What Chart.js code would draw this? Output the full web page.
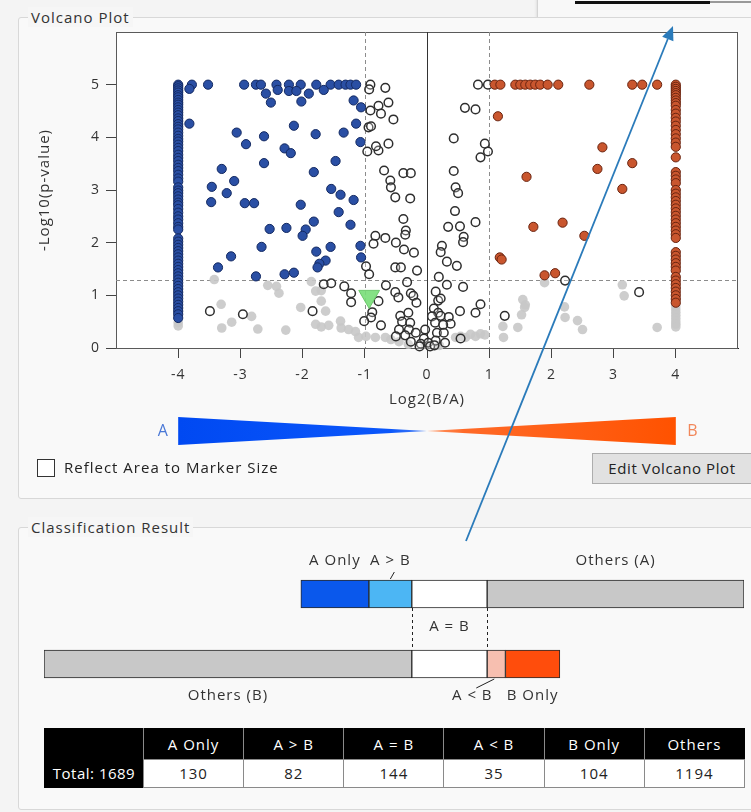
<!DOCTYPE html>
<html>
<head>
<meta charset="utf-8">
<title>Volcano Plot</title>
<script src="https://cdn.jsdelivr.net/npm/chart.js@4.4.1/dist/chart.umd.min.js"></script>
<style>
  html, body { margin: 0; padding: 0; }
  body {
    width: 751px; height: 812px; position: relative; overflow: hidden;
    background: #f4f4f4; font-family: "Open Sans", "Noto Sans", sans-serif; color: #333; letter-spacing: 1px;
  }
  .group { position: absolute; border: 1px solid #d8d8d8; border-radius: 3px; background: #f9f9f9; }
  .group-title {
    position: absolute; left: 9px; top: -11px; padding: 0 3px; background: #f6f6f6;
    font-size: 15px; line-height: 20px; color: #333; white-space: nowrap;
  }
  canvas { position: absolute; left: 0; }
  #volcano { top: 0; }
  #classes { top: 530px; }
  .popup { position: absolute; left: 537px; top: -4px; width: 230px; height: 34px; background: #f8f8f8;
    border: 1px solid #d4d4d4; box-shadow: 0 1px 3px rgba(0,0,0,0.15); }
  .popup .bar1 { position: absolute; left: 37px; top: 4px; width: 135px; height: 3px; background: #111; }
  .popup .bar2 { position: absolute; left: 172px; top: 4px; width: 60px; height: 2px; background: #999; }
  .check { position: absolute; left: 37px; top: 459px; width: 16px; height: 16px; background: #fff; border: 1px solid #333; }
  .check-label { position: absolute; left: 64px; top: 457px; font-size: 15px; line-height: 20px; color: #222; }
  .button { position: absolute; left: 592px; top: 453px; width: 160px; height: 31px; background: #e1e1e1;
    border: 1px solid #adadad; box-sizing: border-box; font-size: 15px; line-height: 29px; text-align: center;
    color: #222; letter-spacing: 0.6px; white-space: nowrap; }
  table.summary { position: absolute; left: 44px; top: 728px; width: 701px; border-collapse: collapse;
    table-layout: fixed; font-size: 15px; border: 1px solid #000; }
  table.summary th, table.summary td { padding: 0; text-align: center; font-weight: normal; white-space: nowrap; }
  table.summary thead th { background: #000; color: #fff; height: 30px; border-left: 1px solid #8a8a8a; }
  table.summary thead th:first-child { border-left: none; }
  table.summary tbody th { background: #000; color: #fff; height: 27px; letter-spacing: 0.5px; }
  table.summary tbody td { background: #fff; color: #222; border: 1px solid #8a8a8a; }
  svg.overlay { position: absolute; left: 0; top: 0; pointer-events: none; }
</style>
</head>
<body>
<div class="popup"><div class="bar1"></div><div class="bar2"></div></div>
<div class="group" style="left:18px; top:17px; width:760px; height:480px;">
  <div class="group-title">Volcano Plot</div>
</div>
<div class="group" style="left:18px; top:527px; width:760px; height:281px;">
  <div class="group-title">Classification Result</div>
</div>

<canvas id="volcano" width="751" height="460"></canvas>
<div class="check"></div>
<div class="check-label">Reflect Area to Marker Size</div>
<div class="button">Edit Volcano Plot</div>

<canvas id="classes" width="751" height="190"></canvas>
<table class="summary" id="summary"></table>

<svg class="overlay" width="751" height="812">
  <line x1="466" y1="541" x2="667.8" y2="39" stroke="#2b7bba" stroke-width="1.8"/>
  <polygon points="673,26 673.4,41.2 662.2,36.8" fill="#2b7bba"/>
</svg>

<script>
// ---------- volcano plot data: [log2(B/A), -log10(p)] ----------
const xTickValues = [-4, -3, -2, -1, 0, 1, 2, 3, 4];
const yTickValues = [0, 1, 2, 3, 4, 5];
const foldThresholds = [-1, 1];
const pThreshold = 1.3;

const aOnlyLog2 = -4;
const bOnlyLog2 = 4;

// A-only features (pinned at log2 = -4)
const aOnlyLevels = [5.00,4.97,4.93,4.89,4.85,4.80,4.76,4.71,4.66,4.62,4.57,4.52,4.47,4.42,4.36,4.31,4.25,
  4.20,4.15,4.09,4.03,3.97,3.92,3.86,3.80,3.74,3.67,3.61,3.55,3.48,3.42,3.36,3.29,3.22,3.16,3.05,2.99,
  2.94,2.88,2.82,2.76,2.71,2.64,2.57,2.50,2.44,2.37,2.30,2.25,2.08,2.02,1.96,1.90,1.84,1.78,1.72,1.66,
  1.60,1.54,1.48,1.42,1.36,1.30,1.24,1.18,1.12,1.06,1.00,0.94,0.88,0.82,0.76,0.70,0.64,0.57];

// B-only features (pinned at log2 = 4)
const bOnlyLevels = [5.00,4.96,4.92,4.88,4.84,4.80,4.75,4.70,4.65,4.60,4.52,4.45,4.37,4.30,4.22,4.14,
  4.06,3.98,3.90,3.82,3.62,3.34,3.27,3.20,3.13,3.00,2.93,2.86,2.79,2.72,2.65,2.58,2.51,2.44,2.37,2.30,
  2.23,2.16,2.09,1.82,1.75,1.68,1.61,1.54,1.47,1.35,1.28,1.21,1.14,1.07,1.00,0.93,0.86];

// A > B (significant, fold change below -1)
const aGreaterPoints = [
  [-3.78,5.00],[-3.52,5.00],[-2.94,5.00],[-2.75,5.00],[-2.67,5.00],[-2.42,5.00],[-2.22,5.00],[-2.03,5.00],
  [-1.78,5.00],[-1.55,5.00],[-1.42,5.00],[-1.31,5.00],[-1.23,5.00],[-1.14,5.00],
  [-3.82,4.92],[-2.59,4.83],[-2.40,4.90],[-2.22,4.88],[-2.10,4.88],[-1.90,4.83],[-1.66,4.90],
  [-2.51,4.66],[-2.02,4.68],[-1.18,4.70],[-1.06,4.57],
  [-3.82,4.26],[-2.14,4.22],[-1.14,4.26],[-3.06,4.09],[-2.62,4.02],[-1.79,4.06],[-1.34,4.09],[-1.07,3.91],
  [-2.91,3.87],[-2.29,3.79],[-2.19,3.70],[-2.62,3.51],[-1.47,3.55],[-3.30,3.40],[-1.82,3.34],
  [-3.10,3.17],[-3.46,3.06],[-3.22,2.94],[-1.54,3.02],[-1.39,2.91],[-1.18,2.81],[-3.47,2.77],
  [-2.93,2.75],[-2.78,2.75],[-2.03,2.72],[-1.42,2.58],[-1.23,2.34],[-1.82,2.40],[-2.53,2.26],
  [-2.26,2.28],[-1.95,2.25],[-2.00,2.13],[-2.66,1.92],[-1.55,1.92],[-1.78,1.83],[-1.07,1.94],
  [-3.15,1.74],[-1.63,1.66],[-1.73,1.60],[-1.76,1.53],[-1.06,1.72],[-3.36,1.53],[-2.75,1.36],
  [-2.29,1.40],[-2.14,1.43]
];

// A < B (significant, fold change above 1)
const bGreaterPoints = [
  [1.09,5.00],[1.18,5.00],[1.42,5.00],[1.50,5.00],[1.58,5.00],[1.66,5.00],[1.74,5.00],[1.82,5.00],
  [1.94,5.00],[2.11,5.00],[2.61,5.00],[3.30,5.00],[3.46,5.00],[3.70,5.00],
  [1.14,4.40],[2.82,3.81],[3.30,3.51],[2.74,3.40],[1.60,3.25],[3.14,3.02],[1.71,2.30],[2.18,2.38],
  [2.53,2.13],[1.17,1.72],[1.20,1.68],[1.89,1.38],[2.06,1.42]
];

// A = B (no fold change beyond the thresholds)
const equalPoints = [
  [-0.91,5.00],[-0.93,4.91],[-0.67,4.94],[-0.62,4.66],[-0.78,4.60],[-0.74,4.45],[-0.91,4.51],[-0.54,4.34],
  [-0.94,4.19],[-0.90,4.21],[-0.62,3.88],[-0.96,3.73],[-0.78,3.75],[-0.82,3.83],[-0.69,3.37],[-0.38,3.32],
  [-0.26,3.32],[-0.59,3.18],[-0.58,3.05],[-0.51,2.86],[-0.27,2.84],
  [0.82,5.00],[0.98,5.00],[0.61,4.56],[0.78,4.53],[0.43,3.98],[0.93,3.88],[0.98,3.73],[0.86,3.62],
  [0.43,3.36],[0.46,3.05],[0.50,2.94],[0.45,2.60],[0.78,2.39],[0.34,2.30],[0.53,2.31],[0.59,2.11],
  [0.58,2.01],[0.24,1.94],[0.22,1.82],[0.32,1.64],[0.48,1.56],[0.19,1.35],[0.32,1.20],[0.58,1.16],
  [0.14,1.07],[0.18,0.90],[0.22,0.94],[0.11,0.75],[0.18,0.67],[0.08,0.60],[0.22,0.61],[0.35,0.59],
  [0.38,0.46],[0.13,0.48],[0.26,0.44],[0.16,0.29],[0.27,0.29],[0.14,0.14],[0.29,0.10],[0.53,0.70],
  [0.78,0.67],[0.86,0.83],[0.54,0.18],[1.25,0.61],[2.22,1.28],[3.41,1.06],
  [-0.38,2.45],[-0.34,2.23],[-0.35,2.15],[-0.83,2.13],[-0.67,2.09],[-0.86,1.98],[-0.50,2.00],[-0.37,1.87],
  [-0.21,1.81],[-0.98,1.55],[-0.93,1.40],[-0.51,1.53],[-0.42,1.53],[-0.16,1.47],[-0.32,1.25],[-0.66,1.19],
  [-1.66,1.21],[-1.54,1.23],[-1.33,1.17],[-1.22,1.04],[-1.22,0.87],[-0.51,1.06],[-0.26,1.04],[-0.22,0.99],
  [-0.46,0.96],[-0.17,0.86],[-0.78,0.89],[-3.49,0.70],[-2.96,0.64],[-1.84,0.70],[-0.88,0.68],[-0.90,0.58],
  [-1.01,0.51],[-0.74,0.43],[-0.43,0.61],[-0.30,0.67],[-0.40,0.50],[-0.27,0.48],[-0.45,0.35],[-0.29,0.35],
  [-0.50,0.22],[-0.35,0.24],[-0.18,0.29],[-0.03,0.35],[-0.05,0.18],[-0.26,0.12],[-0.10,0.08],[0.02,0.10],
  [0.05,0.03],[-0.12,0.03],[0.12,0.05]
];

// Not significant
const otherPoints = [
  [-3.42,1.30],[-3.31,0.83],[-3.30,0.38],[-3.14,0.49],[-2.82,0.60],[-2.72,0.36],[-2.56,1.19],[-2.42,1.17],
  [-2.38,1.04],[-2.27,0.34],[-2.03,0.77],[-1.86,1.26],[-1.79,1.08],[-1.70,1.09],[-1.70,0.89],[-1.63,0.70],
  [-1.79,0.45],[-1.70,0.40],[-1.58,0.43],[-1.39,0.51],[-1.38,0.38],[-1.26,0.35],[-1.15,0.31],[-1.10,0.20],
  [-0.98,0.22],[-0.83,0.20],[-0.67,0.20],[-0.58,0.16],[-0.45,0.12],[-0.30,0.07],[-0.03,0.07],[0.20,0.05],
  [0.46,0.20],[0.54,0.22],[0.62,0.20],[0.70,0.26],[0.78,0.22],[0.86,0.27],[0.93,0.25],[1.22,0.41],
  [1.23,0.20],[1.54,0.92],[1.58,0.82],[1.57,0.77],[1.52,0.63],[1.46,0.39],[1.89,1.24],[2.21,0.78],
  [2.22,0.58],[2.42,0.52],[2.50,0.35],[3.14,1.20],[3.17,0.99],[3.70,0.39],
  [-4,0.48],[-4,0.42],[4,0.80],[4,0.74],[4,0.68],[4,0.62],[4,0.56],[4,0.50],[4,0.45],[4,0.40]
];

// Highlighted feature
const selectedPoint = [[-0.93, 0.98]];

// ---------- classification data ----------
const classLabels = ['A Only', 'A > B', 'A = B', 'A < B', 'B Only', 'Others'];
const classCounts = [130, 82, 144, 35, 104, 1194];
const othersSplitLabels = ['Others (A)', 'Others (B)'];
const othersSplit = [491, 703];

// ---------- shared text settings ----------
const FONT = '"Open Sans", sans-serif';
const tickFont = { family: FONT, size: 14 };
const titleFont = { family: FONT, size: 15 };
const textSpacing = {
  id: 'textSpacing',
  beforeDraw(chart) { chart.ctx.letterSpacing = '1px'; }
};

// ---------- volcano chart ----------
const toXY = pts => pts.map(p => ({ x: p[0], y: p[1] }));
const column = (x, levels) => levels.map(v => ({ x: x, y: v }));

const volcanoDecor = {
  id: 'volcanoDecor',
  beforeDraw(chart) {
    const { ctx, chartArea: a } = chart;
    ctx.save();
    ctx.fillStyle = '#ffffff';
    ctx.fillRect(a.left, a.top, a.right - a.left, a.bottom - a.top);
    ctx.restore();
  },
  beforeDatasetsDraw(chart) {
    const { ctx, chartArea: a, scales: { x, y } } = chart;
    const seg = (x1, y1, x2, y2) => { ctx.beginPath(); ctx.moveTo(x1, y1); ctx.lineTo(x2, y2); ctx.stroke(); };
    ctx.save();
    ctx.lineWidth = 1;
    ctx.strokeStyle = '#5a5a5a';
    ctx.strokeRect(a.left + 0.5, a.top + 0.5, a.right - a.left - 1, a.bottom - a.top);
    ctx.setLineDash([4, 3]);
    ctx.strokeStyle = '#8c8c8c';
    foldThresholds.forEach(v => {
      const px = Math.round(x.getPixelForValue(v)) + 0.5;
      seg(px, a.top, px, a.bottom);
    });
    const py = Math.round(y.getPixelForValue(pThreshold)) + 0.5;
    seg(a.left, py, a.right, py);
    ctx.setLineDash([]);
    ctx.strokeStyle = '#333';
    const zx = Math.round(x.getPixelForValue(0)) + 0.5;
    seg(zx, a.top, zx, a.bottom);
    ctx.restore();
  },
  afterDraw(chart) {
    // A/B direction wedges under the x axis
    const { ctx, chartArea: a, scales: { x } } = chart;
    const x0 = x.getPixelForValue(xTickValues[0]);
    const xm = x.getPixelForValue(0);
    const x1 = x.getPixelForValue(xTickValues[xTickValues.length - 1]);
    const yc = a.bottom + 83, h = 14;
    ctx.save();
    let g = ctx.createLinearGradient(x0, 0, xm, 0);
    g.addColorStop(0, '#0049f2'); g.addColorStop(0.85, '#0b57fb'); g.addColorStop(1, '#4f84f6');
    ctx.fillStyle = g;
    ctx.beginPath(); ctx.moveTo(x0, yc - h); ctx.lineTo(xm, yc); ctx.lineTo(x0, yc + h); ctx.closePath(); ctx.fill();
    g = ctx.createLinearGradient(xm, 0, x1, 0);
    g.addColorStop(0, '#ff9a6a'); g.addColorStop(0.15, '#ff6a28'); g.addColorStop(1, '#ff5200');
    ctx.fillStyle = g;
    ctx.beginPath(); ctx.moveTo(x1, yc - h); ctx.lineTo(xm, yc); ctx.lineTo(x1, yc + h); ctx.closePath(); ctx.fill();
    ctx.font = '16px ' + FONT;
    ctx.textBaseline = 'middle';
    ctx.textAlign = 'center';
    ctx.fillStyle = '#4a78d6';
    ctx.fillText('A', x0 - 15, yc);
    ctx.fillStyle = '#f2875a';
    ctx.fillText('B', x1 + 17, yc);
    ctx.restore();
  }
};

new Chart(document.getElementById('volcano'), {
  type: 'scatter',
  data: {
    datasets: [
      { label: 'Selected', data: toXY(selectedPoint), pointStyle: 'triangle', rotation: 180,
        pointRadius: 12, backgroundColor: 'rgba(120,222,120,0.9)', borderColor: '#6cc86c', borderWidth: 1 },
      { label: 'B Only', data: column(bOnlyLog2, bOnlyLevels), pointRadius: 4.6,
        backgroundColor: '#c9562e', borderColor: '#6a2410', borderWidth: 1 },
      { label: 'A Only', data: column(aOnlyLog2, aOnlyLevels), pointRadius: 4.6,
        backgroundColor: '#2a4fa4', borderColor: '#142a62', borderWidth: 1 },
      { label: 'A < B', data: toXY(bGreaterPoints), pointRadius: 4.6,
        backgroundColor: '#c9562e', borderColor: '#6a2410', borderWidth: 1 },
      { label: 'A > B', data: toXY(aGreaterPoints), pointRadius: 4.6,
        backgroundColor: '#2a4fa4', borderColor: '#142a62', borderWidth: 1 },
      { label: 'A = B', data: toXY(equalPoints), pointRadius: 4.3,
        backgroundColor: 'rgba(255,255,255,0.25)', borderColor: '#2e2e2e', borderWidth: 1.5 },
      { label: 'Others', data: toXY(otherPoints), pointRadius: 4.8,
        backgroundColor: 'rgba(200,200,200,0.9)', borderColor: 'rgba(200,200,200,0.9)', borderWidth: 0 }
    ]
  },
  options: {
    responsive: false, animation: false, devicePixelRatio: 1,
    layout: { padding: { left: 30, top: 32, right: 9, bottom: 48 } },
    plugins: { legend: { display: false }, tooltip: { enabled: false } },
    elements: { point: { hoverRadius: 0 } },
    datasets: { scatter: { clip: false } },
    scales: {
      x: {
        type: 'linear', min: -5, max: 5,
        afterBuildTicks: s => { s.ticks = xTickValues.map(v => ({ value: v })); },
        afterFit: s => { s.height = 64; },
        grid: { drawOnChartArea: false, drawTicks: true, tickLength: 10, color: '#444' },
        border: { display: true, color: '#222', width: 1 },
        ticks: { font: tickFont, color: '#333', padding: 9, maxRotation: 0 },
        title: { display: true, text: 'Log2(B/A)', font: titleFont, color: '#333', padding: { top: 0, bottom: 3 } }
      },
      y: {
        type: 'linear', min: 0, max: 6,
        afterBuildTicks: s => { s.ticks = yTickValues.map(v => ({ value: v })); },
        afterFit: s => { s.width = 86; },
        grid: { drawOnChartArea: false, drawTicks: true, tickLength: 10, color: '#444' },
        border: { display: true, color: '#222', width: 1 },
        ticks: { font: tickFont, color: '#333', padding: 6 },
        title: { display: true, text: '-Log10(p-value)', font: titleFont, color: '#333', padding: { top: 6, bottom: 0 } }
      }
    }
  },
  plugins: [textSpacing, volcanoDecor]
});

// ---------- classification bars ----------
const [nAOnly, nAGtB, nAEqB, nALtB, nBOnly] = classCounts;
const [nOthersA, nOthersB] = othersSplit;
const eqStart = nAOnly + nAGtB;
const eqEnd = eqStart + nAEqB;
// each segment: label, row (0 = A side, 1 = B side), [start, end], colour
const segments = [
  { label: 'A Only', row: 0, range: [0, nAOnly], color: '#0a58ec' },
  { label: 'A > B', row: 0, range: [nAOnly, eqStart], color: '#4cb6f4' },
  { label: 'A = B', row: 0, range: [eqStart, eqEnd], color: '#ffffff' },
  { label: othersSplitLabels[0], row: 0, range: [eqEnd, eqEnd + nOthersA], color: '#c8c8c8' },
  { label: othersSplitLabels[1], row: 1, range: [eqStart - nOthersB, eqStart], color: '#c8c8c8' },
  { label: 'A = B', row: 1, range: [eqStart, eqEnd], color: '#ffffff' },
  { label: 'A < B', row: 1, range: [eqEnd, eqEnd + nALtB], color: '#f7bfb0' },
  { label: 'B Only', row: 1, range: [eqEnd + nALtB, eqEnd + nALtB + nBOnly], color: '#ff4d0c' }
];

const classLabelsPlugin = {
  id: 'classLabels',
  afterDatasetsDraw(chart) {
    const { ctx, scales: { x, y } } = chart;
    const half = 14;
    const top0 = y.getPixelForValue(0) - half, bot0 = y.getPixelForValue(0) + half;
    const top1 = y.getPixelForValue(1) - half, bot1 = y.getPixelForValue(1) + half;
    const cx = r => (x.getPixelForValue(r[0]) + x.getPixelForValue(r[1])) / 2;
    ctx.save();
    ctx.font = '15px ' + FONT;
    ctx.fillStyle = '#333';
    ctx.textAlign = 'center';
    ctx.textBaseline = 'middle';
    ctx.strokeStyle = '#222';
    ctx.lineWidth = 1;
    // dashed guides bounding the A = B block
    ctx.setLineDash([3, 3]);
    [eqStart, eqEnd].forEach(v => {
      const px = Math.round(x.getPixelForValue(v)) + 0.5;
      ctx.beginPath(); ctx.moveTo(px, bot0); ctx.lineTo(px, top1); ctx.stroke();
    });
    ctx.setLineDash([]);
    segments.forEach(s => {
      const c = cx(s.range);
      if (s.row === 0 && s.label !== 'A = B') {
        ctx.fillText(s.label, c, top0 - 19);
        if (s.label === 'A > B') {
          ctx.beginPath(); ctx.moveTo(c, top0 - 1); ctx.lineTo(c + 4, top0 - 8); ctx.stroke();
        }
      } else if (s.row === 1 && s.label !== 'A = B') {
        if (s.label === 'A < B') {
          ctx.fillText(s.label, c - 24, bot1 + 18);
          ctx.beginPath(); ctx.moveTo(c - 2, bot1 + 1); ctx.lineTo(c - 20, bot1 + 10); ctx.stroke();
        } else {
          ctx.fillText(s.label, c, bot1 + 18);
        }
      }
    });
    ctx.fillText('A = B', cx([eqStart, eqEnd]), (bot0 + top1) / 2 - 2);
    ctx.restore();
  }
};

new Chart(document.getElementById('classes'), {
  type: 'bar',
  data: {
    labels: ['A', 'B'],
    datasets: segments.map(s => ({
      label: s.label,
      data: [0, 1].map(r => (r === s.row ? s.range : null)),
      backgroundColor: s.color
    }))
  },
  options: {
    indexAxis: 'y', responsive: false, animation: false, devicePixelRatio: 1,
    layout: { padding: { left: 44, right: 7, top: 29, bottom: 21 } },
    plugins: { legend: { display: false }, tooltip: { enabled: false } },
    datasets: { bar: { grouped: false, barThickness: 28, borderWidth: 1, borderColor: '#2a2a2a', borderSkipped: false } },
    scales: {
      x: { type: 'linear', display: false, min: eqStart - nOthersB, max: eqEnd + nOthersA },
      y: { type: 'category', display: false }
    }
  },
  plugins: [textSpacing, classLabelsPlugin]
});

// ---------- summary table ----------
const total = classCounts.reduce((s, v) => s + v, 0);
const table = document.getElementById('summary');
const esc = t => t.replace('<', '&lt;').replace('>', '&gt;');
const colgroup = '<colgroup><col style="width:99px">' + classLabels.map(() => '<col>').join('') + '</colgroup>';
const head = '<thead><tr><th></th>' + classLabels.map(l => '<th>' + esc(l) + '</th>').join('') + '</tr></thead>';
const body = '<tbody><tr><th>Total: ' + total + '</th>' + classCounts.map(v => '<td>' + v + '</td>').join('') + '</tr></tbody>';
table.innerHTML = colgroup + head + body;
</script>
</body>
</html>
